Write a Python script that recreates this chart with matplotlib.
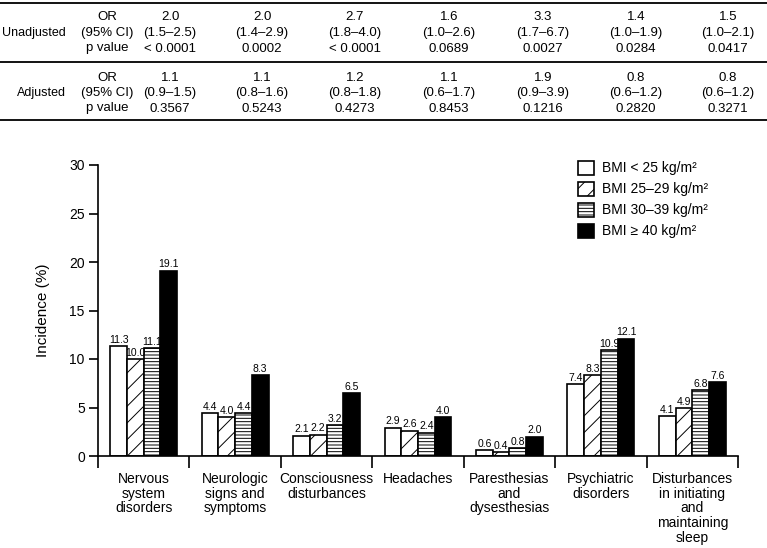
import numpy as np
import matplotlib
matplotlib.use("Agg")
import matplotlib.pyplot as plt
from matplotlib.lines import Line2D

plt.rcParams['font.family'] = ['Liberation Sans', 'DejaVu Sans']
plt.rcParams['hatch.linewidth'] = 0.7

# Données
categories = ["Nervous\nsystem\ndisorders", "Neurologic\nsigns and\nsymptoms",
              "Consciousness\ndisturbances", "Headaches", "Paresthesias\nand\ndysesthesias",
              "Psychiatric\ndisorders", "Disturbances\nin initiating\nand\nmaintaining\nsleep"]
series_labels = ["BMI < 25 kg/m²", "BMI 25–29 kg/m²", "BMI 30–39 kg/m²", "BMI ≥ 40 kg/m²"]
bmi_lt25 = [11.3, 4.4, 2.1, 2.9, 0.6, 7.4, 4.1]
bmi_25_29 = [10.0, 4.0, 2.2, 2.6, 0.4, 8.3, 4.9]
bmi_30_39 = [11.1, 4.4, 3.2, 2.4, 0.8, 10.9, 6.8]
bmi_ge40 = [19.1, 8.3, 6.5, 4.0, 2.0, 12.1, 7.6]

# Tableau des odds ratios
unadj_or = ["2.0", "2.0", "2.7", "1.6", "3.3", "1.4", "1.5"]
unadj_ci = ["(1.5–2.5)", "(1.4–2.9)", "(1.8–4.0)", "(1.0–2.6)", "(1.7–6.7)", "(1.0–1.9)", "(1.0–2.1)"]
unadj_p = ["< 0.0001", "0.0002", "< 0.0001", "0.0689", "0.0027", "0.0284", "0.0417"]
adj_or = ["1.1", "1.1", "1.2", "1.1", "1.9", "0.8", "0.8"]
adj_ci = ["(0.9–1.5)", "(0.8–1.6)", "(0.8–1.8)", "(0.6–1.7)", "(0.9–3.9)", "(0.6–1.2)", "(0.6–1.2)"]
adj_p = ["0.3567", "0.5243", "0.4273", "0.8453", "0.1216", "0.2820", "0.3271"]

W, H = 767, 548
fig = plt.figure(figsize=(W / 100, H / 100), dpi=100)

def fx(px):
    return px / W

def fy(py):
    return 1 - py / H

# Tableau en haut
for yl in [3, 62, 120]:
    fig.add_artist(Line2D([0, 1], [fy(yl), fy(yl)], color="black", lw=1.3,
                          transform=fig.transFigure))

taille = 9.5
col_x = [170, 262, 355, 449, 543, 636, 728]
blocks = [("Unadjusted", 33, unadj_or, unadj_ci, unadj_p),
          ("Adjusted", 93, adj_or, adj_ci, adj_p)]
for nom, yc, ors, cis, ps in blocks:
    fig.text(fx(66), fy(yc), nom, ha="right", va="center", fontsize=9)
    for dy, txt in zip([-15.5, 0, 15.5], ["OR", "(95% CI)", "p value"]):
        fig.text(fx(107), fy(yc + dy), txt, ha="center", va="center", fontsize=taille)
    for i, x in enumerate(col_x):
        fig.text(fx(x), fy(yc - 15.5), ors[i], ha="center", va="center", fontsize=taille)
        fig.text(fx(x), fy(yc), cis[i], ha="center", va="center", fontsize=taille)
        fig.text(fx(x), fy(yc + 15.5), ps[i], ha="center", va="center", fontsize=taille)

# Graphique
ax = fig.add_axes([fx(98), fy(456), fx(738) - fx(98), fy(165) - fy(456)])

x = np.arange(len(categories))
largeur = 0.183
series = [bmi_lt25, bmi_25_29, bmi_30_39, bmi_ge40]
faces = ["white", "white", "white", "black"]
hatches = [None, "//", "-----", None]
for k, (vals, fc, h, lab) in enumerate(zip(series, faces, hatches, series_labels)):
    pos = x + (k - 1.5) * largeur
    bars = ax.bar(pos, vals, largeur, color=fc, edgecolor="black", hatch=h,
                  linewidth=1.2, label=lab)
    ax.bar_label(bars, labels=[f"{v:.1f}" for v in vals], padding=1,
                 fontsize=7.5, family=["Liberation Sans Narrow", "Liberation Sans"])

ax.set_xlim(-0.5, len(categories) - 0.5)
ax.set_ylim(0, 30)
ax.set_yticks(np.arange(0, 31, 5))
ax.tick_params(axis="y", length=6.5, width=1.2, labelsize=10, pad=3)
ax.set_ylabel("Incidence (%)", fontsize=11, labelpad=14)

ax.set_xticks(np.arange(-0.5, len(categories), 1))
ax.set_xticklabels([])
ax.tick_params(axis="x", which="major", length=8.5, width=1.2)
ax.set_xticks(x, minor=True)
ax.set_xticklabels(categories, minor=True, fontsize=10, linespacing=1.06)
ax.tick_params(axis="x", which="minor", length=0, pad=11.5)

for s in ["top", "right"]:
    ax.spines[s].set_visible(False)
for s in ["left", "bottom"]:
    ax.spines[s].set_linewidth(1.2)

ax.legend(loc="upper left", bbox_to_anchor=(fx(565), fy(148)),
          bbox_transform=fig.transFigure, frameon=False, fontsize=10,
          handlelength=1.2, handleheight=1.2, labelspacing=0.45, handletextpad=0.6)

plt.savefig("out.png", dpi=100)
